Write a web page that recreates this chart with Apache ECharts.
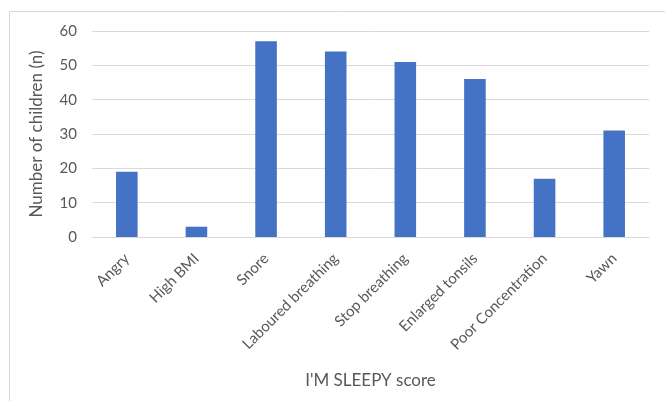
<!DOCTYPE html>
<html>
<head>
<meta charset="utf-8">
<script src="https://cdn.jsdelivr.net/npm/echarts@6/dist/echarts.min.js"></script>
<style>
html,body{margin:0;padding:0;background:#fff;}
#chart{width:665px;height:401px;}
</style>
</head>
<body>
<div id="chart"></div>
<script>
const categories = ["Angry", "High BMI", "Snore", "Laboured breathing", "Stop breathing", "Enlarged tonsils", "Poor Concentration", "Yawn"];
const values = [19, 3, 57, 54, 51, 46, 17, 31];
const yTicks = [0, 10, 20, 30, 40, 50, 60];

const chart = echarts.init(document.getElementById('chart'), null, {renderer: 'canvas'});
const font = 'Lato, "Open Sans", sans-serif';
chart.setOption({
  animation: false,
  backgroundColor: '#ffffff',
  graphic: [{
    type: 'rect',
    shape: {x: 9.5, y: 11.5, width: 700, height: 450},
    style: {fill: 'none', stroke: '#D9D9D9', lineWidth: 1},
    silent: true
  }],
  grid: {left: 92, right: 16, top: 31, bottom: 164},
  xAxis: {
    type: 'category',
    data: categories,
    axisLine: {show: true, lineStyle: {color: '#D9D9D9', width: 1}},
    axisTick: {show: false},
    axisLabel: {rotate: 45, color: '#595959', fontSize: 15, fontFamily: font, margin: 19, interval: 0},
    name: "I'M SLEEPY score",
    nameLocation: 'middle',
    nameGap: 135,
    nameTextStyle: {color: '#595959', fontSize: 17, fontFamily: font}
  },
  yAxis: {
    type: 'value',
    min: yTicks[0],
    max: yTicks[yTicks.length - 1],
    interval: 10,
    axisLine: {show: false},
    axisTick: {show: false},
    splitLine: {lineStyle: {color: '#D9D9D9', width: 1}},
    axisLabel: {color: '#595959', fontSize: 15, fontFamily: font, margin: 15},
    name: 'Number of children (n)',
    nameLocation: 'middle',
    nameGap: 47,
    nameTextStyle: {color: '#595959', fontSize: 17, fontFamily: font}
  },
  series: [{
    type: 'bar',
    data: values,
    barWidth: '31%',
    itemStyle: {color: '#4472C4'}
  }]
});
</script>
</body>
</html>
